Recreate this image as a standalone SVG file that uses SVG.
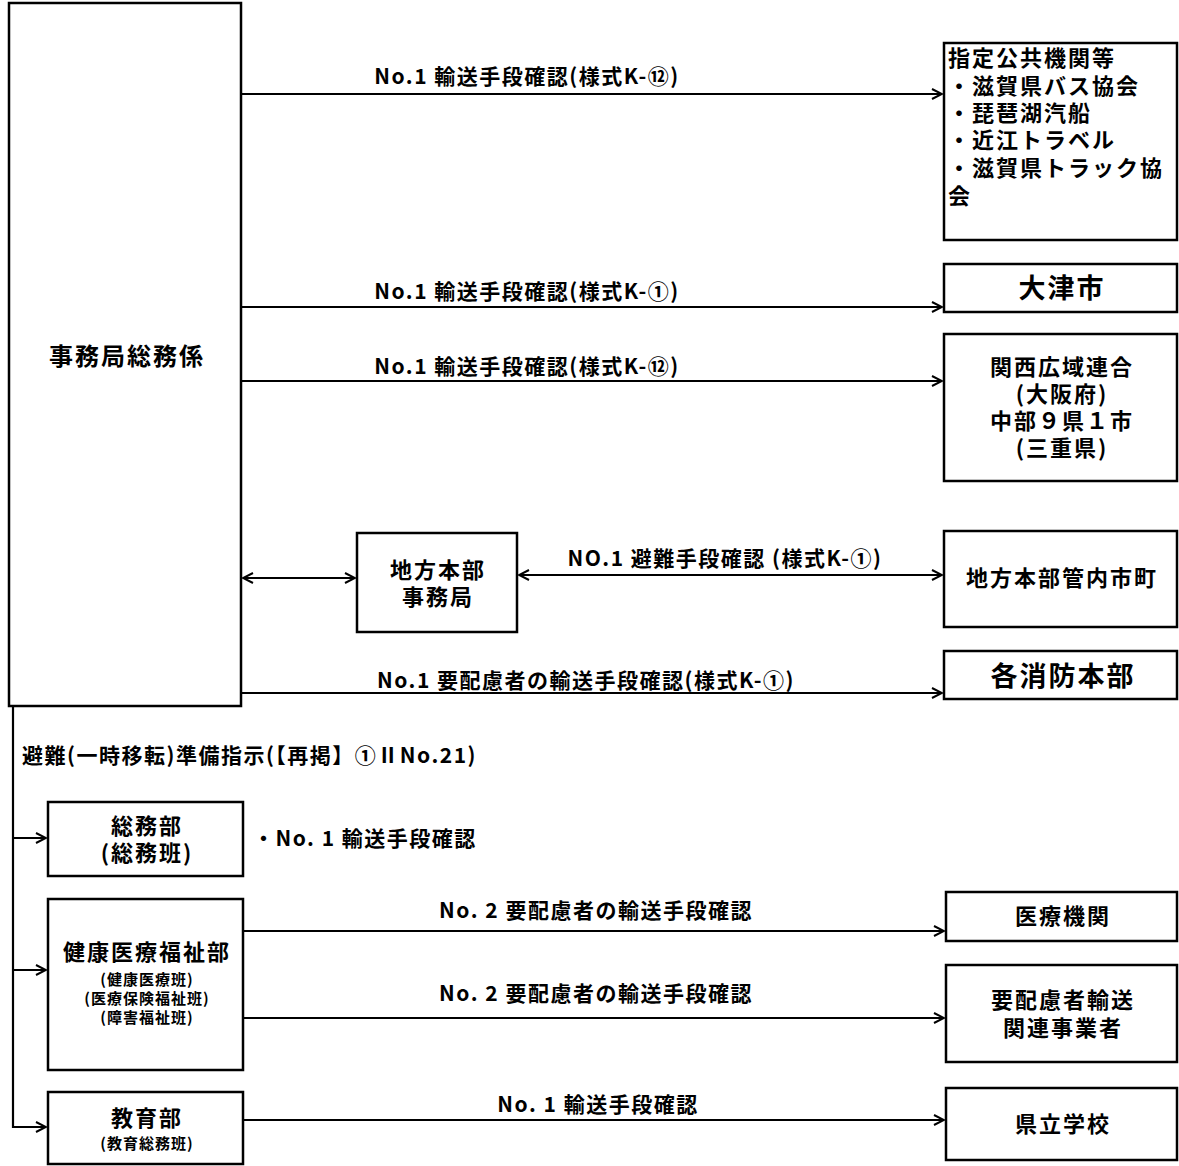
<svg xmlns="http://www.w3.org/2000/svg" width="1179" height="1166" viewBox="0 0 1179 1166">
<style>
.box{fill:#fff;stroke:#000;stroke-width:2.5}
.ln{fill:none;stroke:#000;stroke-width:2.2}
text{font-family:"Noto Sans CJK JP","Noto Sans",sans-serif;font-weight:bold;fill:#000}
.lb{font-size:21px;letter-spacing:1.5px}
.c{text-anchor:middle}
.t{font-size:22px;letter-spacing:2px}
.big{font-size:27px;letter-spacing:2px}
.s{font-size:15px;letter-spacing:1px}
</style>
<defs>
<marker id="ah" viewBox="0 0 12 12" refX="11" refY="6" markerWidth="12" markerHeight="12" markerUnits="userSpaceOnUse" orient="auto-start-reverse">
<path d="M1,1 L11,6 L1,11" fill="none" stroke="#000" stroke-width="2"/>
</marker>
</defs>
<rect width="1179" height="1166" fill="#fff"/>
<g id="connectors">
<line class="ln" x1="241" y1="94" x2="942" y2="94" marker-end="url(#ah)"/>
<line class="ln" x1="241" y1="307" x2="942" y2="307" marker-end="url(#ah)"/>
<line class="ln" x1="241" y1="381" x2="942" y2="381" marker-end="url(#ah)"/>
<line class="ln" x1="243" y1="578" x2="355" y2="578" marker-start="url(#ah)" marker-end="url(#ah)"/>
<line class="ln" x1="519" y1="575" x2="942" y2="575" marker-start="url(#ah)" marker-end="url(#ah)"/>
<line class="ln" x1="241" y1="693" x2="942" y2="693" marker-end="url(#ah)"/>
<polyline class="ln" points="13,706 13,1127 46,1127" marker-end="url(#ah)"/>
<line class="ln" x1="13" y1="838" x2="46" y2="838" marker-end="url(#ah)"/>
<line class="ln" x1="13" y1="970" x2="46" y2="970" marker-end="url(#ah)"/>
<line class="ln" x1="243" y1="931" x2="944" y2="931" marker-end="url(#ah)"/>
<line class="ln" x1="243" y1="1018" x2="944" y2="1018" marker-end="url(#ah)"/>
<line class="ln" x1="243" y1="1120" x2="944" y2="1120" marker-end="url(#ah)"/>
<text class="lb c" x="527" y="84">No.1 輸送手段確認(様式K-⑫)</text>
<text class="lb c" x="527" y="299">No.1 輸送手段確認(様式K-①)</text>
<text class="lb c" x="527" y="374">No.1 輸送手段確認(様式K-⑫)</text>
<text class="lb c" x="725" y="566">NO.1 避難手段確認 (様式K-①)</text>
<text class="lb c" x="586" y="688">No.1 要配慮者の輸送手段確認(様式K-①)</text>
<text class="lb" x="22" y="763">避難(一時移転)準備指示(【再掲】①ⅡNo.21)</text>
<text class="lb" x="253" y="846">・No. 1 輸送手段確認</text>
<text class="lb c" x="596" y="918">No. 2 要配慮者の輸送手段確認</text>
<text class="lb c" x="596" y="1001">No. 2 要配慮者の輸送手段確認</text>
<text class="lb c" x="598" y="1112">No. 1 輸送手段確認</text>
</g>
<g id="n-jimukyoku">
<rect class="box" x="9" y="3" width="232" height="703"/>
<text class="t c" x="127" y="365" style="font-size:24px">事務局総務係</text>
</g>
<g id="n-shitei">
<rect class="box" x="944" y="43" width="233" height="197"/>
<text class="t" x="948" y="66">指定公共機関等</text>
<text class="t" x="948" y="94">・滋賀県バス協会</text>
<text class="t" x="948" y="121">・琵琶湖汽船</text>
<text class="t" x="948" y="148">・近江トラベル</text>
<text class="t" x="948" y="176">・滋賀県トラック協</text>
<text class="t" x="948" y="204">会</text>
</g>
<g id="n-otsu">
<rect class="box" x="944" y="264" width="233" height="48"/>
<text class="big c" x="1062" y="298">大津市</text>
</g>
<g id="n-kansai">
<rect class="box" x="944" y="334" width="233" height="147"/>
<text class="t c" x="1062" y="375">関西広域連合</text>
<text class="t c" x="1062" y="402">(大阪府)</text>
<text class="t c" x="1062" y="429">中部９県１市</text>
<text class="t c" x="1062" y="456">(三重県)</text>
</g>
<g id="n-chihou">
<rect class="box" x="357" y="533" width="160" height="99"/>
<text class="t c" x="438" y="578">地方本部</text>
<text class="t c" x="438" y="605">事務局</text>
</g>
<g id="n-kannai">
<rect class="box" x="944" y="531" width="233" height="96"/>
<text class="t c" x="1062" y="586">地方本部管内市町</text>
</g>
<g id="n-shoubou">
<rect class="box" x="944" y="651" width="233" height="48"/>
<text class="big c" x="1063" y="686">各消防本部</text>
</g>
<g id="n-soumu">
<rect class="box" x="48" y="802" width="195" height="74"/>
<text class="t c" x="147" y="834">総務部</text>
<text class="t c" x="147" y="861">(総務班)</text>
</g>
<g id="n-kenkou">
<rect class="box" x="48" y="899" width="195" height="171"/>
<text class="t c" x="147" y="960">健康医療福祉部</text>
<text class="s c" x="147" y="985">(健康医療班)</text>
<text class="s c" x="147" y="1004">(医療保険福祉班)</text>
<text class="s c" x="147" y="1023">(障害福祉班)</text>
</g>
<g id="n-kyouiku">
<rect class="box" x="48" y="1092" width="195" height="72"/>
<text class="t c" x="147" y="1126">教育部</text>
<text class="s c" x="147" y="1149">(教育総務班)</text>
</g>
<g id="n-iryou">
<rect class="box" x="946" y="892" width="231" height="49"/>
<text class="t c" x="1063" y="924">医療機関</text>
</g>
<g id="n-youhairyo">
<rect class="box" x="946" y="965" width="231" height="97"/>
<text class="t c" x="1063" y="1008">要配慮者輸送</text>
<text class="t c" x="1063" y="1036">関連事業者</text>
</g>
<g id="n-kenritsu">
<rect class="box" x="946" y="1088" width="231" height="72"/>
<text class="t c" x="1063" y="1132">県立学校</text>
</g>
</svg>
